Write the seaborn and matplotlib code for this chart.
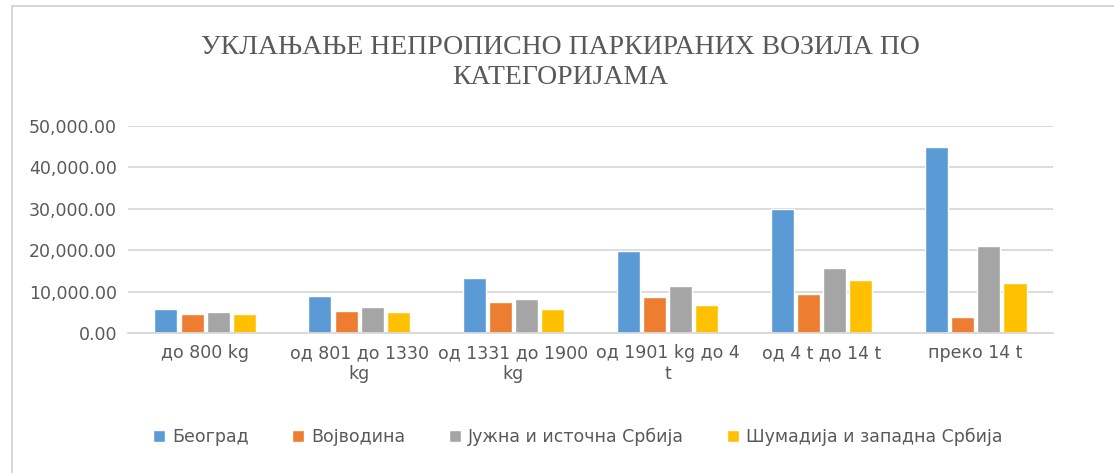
import pandas as pd
import numpy as np
import matplotlib.pyplot as plt
import seaborn as sns
from matplotlib.ticker import FuncFormatter
from matplotlib.patches import Rectangle

categories = ["до 800 kg", "од 801 до 1330\nkg", "од 1331 до 1900\nkg",
              "од 1901 kg до 4\nt", "од 4 t до 14 t", "преко 14 t"]
regions = ["Београд", "Војводина", "Јужна и источна Србија", "Шумадија и западна Србија"]

beograd = [5800, 9000, 13300, 19900, 29900, 45000]
vojvodina = [4600, 5250, 7400, 8650, 9300, 3950]
jug_istok = [5000, 6200, 8300, 11450, 15800, 21100]
sumadija = [4600, 5000, 5800, 6800, 12700, 12050]

colors = ["#5b9bd5", "#ed7d31", "#a5a5a5", "#ffc000"]

rows = []
for reg, vals in zip(regions, [beograd, vojvodina, jug_istok, sumadija]):
    for cat, v in zip(categories, vals):
        rows.append({"cat": cat, "region": reg, "value": v})
df = pd.DataFrame(rows)

sns.set_style("white")
plt.rcParams['font.family'] = ['DejaVu Sans']

fig = plt.figure(figsize=(11.14, 4.73), dpi=100)
ax = fig.add_axes([0.115, 0.296, 0.83, 0.438])

sns.barplot(data=df, x="cat", y="value", hue="region", order=categories,
            hue_order=regions, palette=colors, width=0.68, gap=0.12,
            saturation=1, ax=ax, legend=True)

ax.set_ylim(0, 50000)
ax.set_yticks(np.arange(0, 50001, 10000))
ax.yaxis.set_major_formatter(FuncFormatter(lambda v, p: f"{v:,.2f}"))
ax.set_xlim(-0.5, 5.5)
ax.grid(axis="y", color="#d9d9d9", linewidth=1.3)
ax.set_axisbelow(True)
for s in ["top", "right", "left"]:
    ax.spines[s].set_visible(False)
ax.spines["bottom"].set_color("#d9d9d9")
ax.spines["bottom"].set_linewidth(1.3)
ax.tick_params(axis="both", length=0, labelsize=12.5, colors="#595959", pad=8)
ax.set_xlabel("")
ax.set_ylabel("")

ax.legend(loc="center left", bbox_to_anchor=(0.01, -0.50), ncol=4, frameon=False,
          fontsize=12.5, labelcolor="#595959", handlelength=0.7, handleheight=0.7,
          columnspacing=2.5, handletextpad=0.4)

fig.text(0.503, 0.868, "УКЛАЊАЊЕ НЕПРОПИСНО ПАРКИРАНИХ ВОЗИЛА ПО\nКАТЕГОРИЈАМА",
         ha="center", va="center", fontsize=20, color="#595959",
         family="Liberation Serif", linespacing=1.3)

fig.patches.append(Rectangle((12 / 1114, -0.05), 1.1, 1.037, transform=fig.transFigure,
                             fill=False, edgecolor="#d0d0d0", linewidth=1.2))

fig.savefig("out.png", dpi=100)
